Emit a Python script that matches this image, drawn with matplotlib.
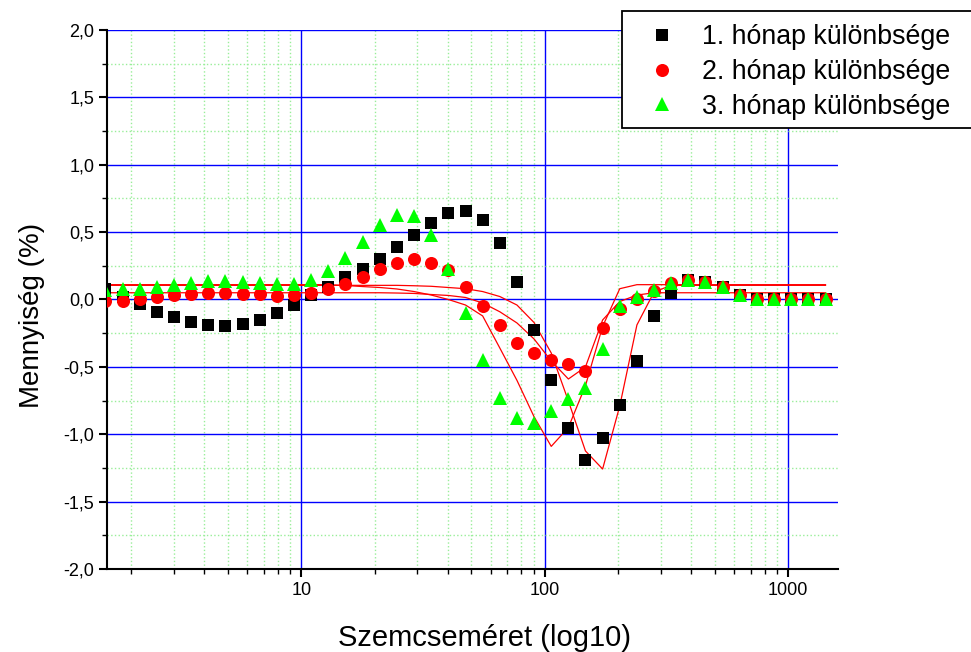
import numpy as np
import matplotlib
matplotlib.use('Agg')
import matplotlib.pyplot as plt
from matplotlib.patches import Rectangle
from matplotlib.lines import Line2D
from matplotlib.ticker import MultipleLocator, LogLocator, FuncFormatter, NullFormatter, FixedLocator

plt.rcParams['font.family'] = ['Liberation Sans', 'DejaVu Sans']

# particle size bins
size = [1.57, 1.85, 2.17, 2.55, 3.00, 3.53, 4.15, 4.88, 5.74, 6.75, 7.94, 9.34,
        10.98, 12.92, 15.19, 17.86, 21.01, 24.71, 29.06, 34.17, 40.18, 47.26,
        55.57, 65.36, 76.86, 90.36, 106.3, 125.0, 146.9, 172.8, 203.2, 239.0,
        281.1, 330.5, 388.7, 457.1, 537.6, 632.2, 743.5, 874.4, 1028, 1209, 1422]

diff1 = [0.08, 0.02, -0.03, -0.09, -0.13, -0.17, -0.19, -0.20, -0.18, -0.15, -0.10, -0.04,
         0.03, 0.095, 0.165, 0.23, 0.30, 0.39, 0.48, 0.57, 0.64, 0.66, 0.59, 0.42,
         0.13, -0.23, -0.60, -0.95, -1.19, -1.03, -0.78, -0.46, -0.12, 0.05, 0.145,
         0.13, 0.095, 0.03, 0.0, 0.0, 0.0, 0.0, 0.0]
diff2 = [-0.01, -0.01, 0.0, 0.015, 0.03, 0.04, 0.045, 0.045, 0.04, 0.04, 0.025, 0.03,
         0.045, 0.08, 0.115, 0.165, 0.23, 0.27, 0.30, 0.27, 0.22, 0.09, -0.05, -0.19,
         -0.32, -0.40, -0.45, -0.48, -0.53, -0.21, -0.07, 0.0, 0.065, 0.12, 0.145,
         0.13, 0.095, 0.03, 0.0, 0.0, 0.0, 0.0, 0.0]
diff3 = [0.07, 0.075, 0.08, 0.09, 0.105, 0.12, 0.14, 0.14, 0.13, 0.12, 0.115, 0.115,
         0.145, 0.21, 0.31, 0.43, 0.55, 0.63, 0.62, 0.48, 0.23, -0.10, -0.45, -0.73,
         -0.88, -0.92, -0.83, -0.74, -0.66, -0.37, -0.05, 0.015, 0.07, 0.125, 0.145,
         0.13, 0.095, 0.03, 0.0, 0.0, 0.0, 0.0, 0.0]

# red fit curves
fitA = [0.11, 0.11, 0.11, 0.11, 0.11, 0.11, 0.11, 0.11, 0.11, 0.11, 0.11, 0.11, 0.11, 0.11,
        0.104, 0.096, 0.089, 0.078, 0.059, 0.033, 0.0, -0.041, -0.122, -0.36, -0.60,
        -0.87, -1.09, -0.95, -0.64, -0.20, 0.08,
        0.11, 0.11, 0.11, 0.11, 0.11, 0.11, 0.11, 0.11, 0.11, 0.11, 0.11, 0.11]
fitB = [0.105, 0.105, 0.105, 0.105, 0.105, 0.105, 0.105, 0.105, 0.105, 0.105, 0.105, 0.105,
        0.105, 0.105, 0.105, 0.105, 0.105, 0.105,
        0.102, 0.098, 0.089, 0.080, 0.059, 0.022, -0.041, -0.171, -0.397, -0.753,
        -1.124, -1.258, -0.790, -0.189, 0.056,
        0.105, 0.105, 0.105, 0.105, 0.105, 0.105, 0.105, 0.105, 0.105, 0.105]
fitC = [0.05, 0.05, 0.05, 0.05, 0.05, 0.05, 0.05, 0.05, 0.05, 0.05, 0.05, 0.05, 0.05,
        0.05, 0.05, 0.05, 0.05,
        0.048, 0.045, 0.037, 0.030, 0.015, -0.026, -0.091, -0.174, -0.293, -0.456,
        -0.590, -0.501, -0.152, -0.015, 0.033,
        0.05, 0.05, 0.05, 0.05, 0.05, 0.05, 0.05, 0.05, 0.05, 0.05, 0.05]

labels = ['1. hónap különbsége', '2. hónap különbsége', '3. hónap különbsége']

fig = plt.figure(figsize=(9.71, 6.52), dpi=100)
ax = fig.add_axes([0.1107, 0.1273, 0.7523, 0.8267])

for fit in (fitA, fitB, fitC):
    ax.plot(size, fit, color='#ff0000', lw=0.9, zorder=2)

h1, = ax.plot(size, diff1, 's', color='black', ms=8.6, mew=0, zorder=3)
h2, = ax.plot(size, diff2, 'o', color='#ff0000', ms=9.4, mew=0, zorder=4)
h3, = ax.plot(size, diff3, '^', color='#00ff00', ms=10.5, mew=0, zorder=5)

ax.set_xscale('log')
ax.set_xlim(1.6, 1600)
ax.set_ylim(-2.0, 2.0)
ax.yaxis.set_major_locator(MultipleLocator(0.5))
ax.yaxis.set_minor_locator(MultipleLocator(0.25))
ax.yaxis.set_major_formatter(FuncFormatter(lambda v, p: f'{v:.1f}'.replace('.', ',')))
ax.xaxis.set_major_locator(FixedLocator([10, 100, 1000]))
ax.xaxis.set_minor_locator(LogLocator(base=10, subs=range(2, 10), numticks=20))
ax.xaxis.set_major_formatter(FuncFormatter(lambda v, p: f'{v:g}'))
ax.xaxis.set_minor_formatter(NullFormatter())

ax.set_axisbelow(True)
ax.grid(which='major', color='#0000ff', lw=1.0)
ax.grid(which='minor', color='#99ee99', ls=':', lw=1.0)

for s in ('top', 'right'):
    ax.spines[s].set_visible(False)
for s in ('left', 'bottom'):
    ax.spines[s].set_linewidth(1.5)

ax.tick_params(which='major', direction='out', length=6, width=1.5, labelsize=13)
ax.tick_params(which='minor', direction='out', length=3.5, width=1.0)

ax.set_xlabel('Szemcseméret (log10)', fontsize=21, labelpad=18)
ax.set_ylabel('Mennyiség (%)', fontsize=20, labelpad=13)
ax.xaxis.label.set_x(0.516)
ax.yaxis.label.set_y(0.471)

# legend box runs off the right edge of the picture: white fill + open outline
x0, y0, y1 = 622 / 971, 1 - 128 / 652, 1 - 11 / 652
fig.add_artist(Rectangle((x0, y0), 1.0 - x0, y1 - y0, transform=fig.transFigure,
                         facecolor='white', edgecolor='none', zorder=4))
fig.add_artist(Line2D([1.3, x0, x0, 1.3], [y1, y1, y0, y0], transform=fig.transFigure,
                      color='black', lw=1.3, zorder=4.5, solid_joinstyle='miter'))
leg = fig.legend([h1, h2, h3], labels, loc='upper left',
                 bbox_to_anchor=(622 / 971, 1 - 11 / 652), borderaxespad=0,
                 fontsize=19.3, numpoints=1, handlelength=2.0, handletextpad=0.5,
                 labelspacing=0.32, borderpad=0.5, frameon=False)
leg.set_zorder(5)

fig.savefig('out.png', dpi=100)
